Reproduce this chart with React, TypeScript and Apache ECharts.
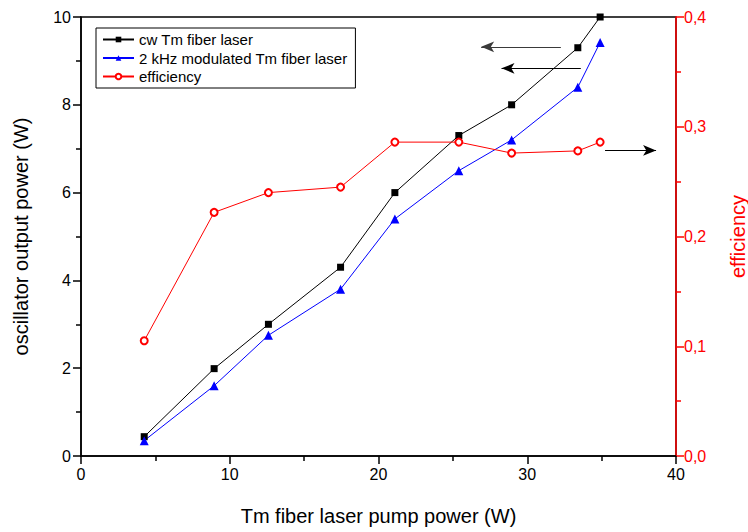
import React, { useEffect, useRef } from "react";
import * as echarts from "echarts";

const pumpPower = [4.25, 8.95, 12.6, 17.45, 21.1, 25.4, 28.95, 33.4, 34.9];
const cwPower = [0.44, 1.99, 3.0, 4.3, 6.0, 7.3, 8.0, 9.3, 10.0];
const modPower = [0.35, 1.6, 2.75, 3.8, 5.4, 6.5, 7.2, 8.4, 9.42];
const efficiency = [0.105, 0.222, 0.24, 0.245, 0.286, 0.286, 0.276, 0.278, 0.286];

const seriesNames = ["cw Tm fiber laser", "2 kHz modulated Tm fiber laser", "efficiency"];
const xTitle = "Tm fiber laser pump power (W)";
const yLeftTitle = "oscillator output power (W)";
const yRightTitle = "efficiency";

// arrows: [xStart, xEnd, y] in left-axis data coordinates
const arrowsLeft = [
  [32.26, 26.9, 9.32],
  [33.6, 28.27, 8.83],
];
const arrowsRight = [[35.23, 38.66, 6.96]];

const FONT = "Liberation Sans, Arial, sans-serif";

export default function App() {
  const ref = useRef<HTMLDivElement>(null);
  useEffect(() => {
    if (!ref.current) return;
    const chart = echarts.init(ref.current, undefined, { renderer: "svg" });
    const toPairs = (ys: number[]) => pumpPower.map((x, i) => [x, ys[i]]);
    const arrowLine = (a: number[][], colors: string[]) =>
      a.map((r, i) => [
        { coord: [r[0], r[2]], lineStyle: { color: colors[i] }, itemStyle: { color: colors[i] } },
        { coord: [r[1], r[2]], lineStyle: { color: colors[i] }, itemStyle: { color: colors[i] } },
      ]);
    chart.setOption({
      animation: false,
      textStyle: { fontFamily: FONT },
      grid: {
        left: 81,
        right: 72,
        top: 17,
        bottom: 76,
        outerBoundsMode: "none",
        containLabel: false,
        show: true,
        borderColor: "#000",
        borderWidth: 1.5,
      },
      legend: {
        orient: "vertical",
        left: 96,
        top: 28,
        borderColor: "#000",
        borderWidth: 1,
        padding: [4, 8, 4, 6],
        itemGap: 3.5,
        itemWidth: 31,
        itemHeight: 7,
        textStyle: { fontFamily: FONT, fontSize: 15, color: "#000", lineHeight: 15 },
        data: seriesNames,
      },
      xAxis: {
        type: "value",
        min: 0,
        max: 40,
        interval: 10,
        name: xTitle,
        nameLocation: "middle",
        nameGap: 50,
        nameTextStyle: { fontFamily: FONT, fontSize: 20, color: "#000" },
        axisLine: { show: true, lineStyle: { color: "#000", width: 1.5 } },
        axisTick: { show: true, inside: false, length: 8, lineStyle: { color: "#000", width: 1.5 } },
        minorTick: { show: true, splitNumber: 2, length: 5, lineStyle: { color: "#000", width: 1.5 } },
        axisLabel: { fontFamily: FONT, fontSize: 16, color: "#000", margin: 10 },
        splitLine: { show: false },
      },
      yAxis: [
        {
          type: "value",
          min: 0,
          max: 10,
          interval: 2,
          position: "left",
          name: yLeftTitle,
          nameLocation: "middle",
          nameGap: 50,
          nameTextStyle: { fontFamily: FONT, fontSize: 20, color: "#000" },
          axisLine: { show: true, lineStyle: { color: "#000", width: 1.5 } },
          axisTick: { show: true, inside: false, length: 8, lineStyle: { color: "#000", width: 1.5 } },
          minorTick: { show: true, splitNumber: 2, length: 5, lineStyle: { color: "#000", width: 1.5 } },
          axisLabel: { fontFamily: FONT, fontSize: 16, color: "#000", margin: 10 },
          splitLine: { show: false },
        },
        {
          type: "value",
          min: 0,
          max: 0.4,
          interval: 0.1,
          position: "right",
          name: yRightTitle,
          nameLocation: "middle",
          nameGap: 52,
          nameTextStyle: { fontFamily: FONT, fontSize: 20, color: "#ff0000" },
          axisLine: { show: true, lineStyle: { color: "#ff0000", width: 1.5 } },
          axisTick: { show: true, inside: false, length: 8, lineStyle: { color: "#ff0000", width: 1.5 } },
          minorTick: { show: true, splitNumber: 2, length: 5, lineStyle: { color: "#ff0000", width: 1.5 } },
          axisLabel: {
            fontFamily: FONT,
            fontSize: 16,
            color: "#ff0000",
            margin: 8,
            formatter: (v: number) => v.toFixed(1).replace(".", ","),
          },
          splitLine: { show: false },
        },
      ],
      series: [
        {
          name: seriesNames[0],
          type: "line",
          yAxisIndex: 0,
          data: toPairs(cwPower),
          symbol: "rect",
          symbolSize: 7,
          lineStyle: { color: "#000", width: 1 },
          itemStyle: { color: "#000" },
          markLine: {
            silent: true,
            symbol: ["none", "arrow"],
            symbolSize: [8, 13],
            label: { show: false },
            lineStyle: { width: 1, type: "solid" },
            data: arrowLine(arrowsLeft, ["#3a3a3a", "#000"]),
          },
        },
        {
          name: seriesNames[1],
          type: "line",
          yAxisIndex: 0,
          data: toPairs(modPower),
          symbol: "triangle",
          symbolSize: 9,
          lineStyle: { color: "#0000ff", width: 1 },
          itemStyle: { color: "#0000ff" },
          markLine: {
            silent: true,
            symbol: ["none", "arrow"],
            symbolSize: [8, 13],
            label: { show: false },
            lineStyle: { width: 1, type: "solid" },
            data: arrowLine(arrowsRight, ["#000"]),
          },
        },
        {
          name: seriesNames[2],
          type: "line",
          yAxisIndex: 1,
          data: toPairs(efficiency),
          symbol: "emptyCircle",
          symbolSize: 7,
          lineStyle: { color: "#ff0000", width: 1 },
          itemStyle: { color: "#ff0000", borderWidth: 1 },
        },
      ],
    });
    return () => chart.dispose();
  }, []);
  return <div ref={ref} style={{ width: 748, height: 532, position: "absolute", left: 0, top: 0, background: "#fff" }} />;
}
